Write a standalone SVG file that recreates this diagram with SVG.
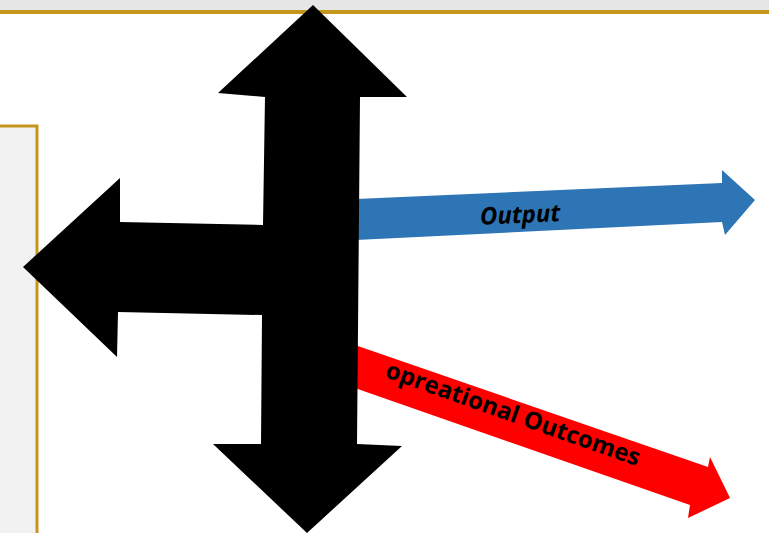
<svg xmlns="http://www.w3.org/2000/svg" width="769" height="533" viewBox="0 0 769 533">
  <style>
    .label { font-family: "Open Sans", "Noto Sans", "Liberation Sans", sans-serif; font-weight: bold; fill: #000; }
    .frame { stroke: #c4961a; stroke-width: 3; }
  </style>
  <rect x="0" y="0" width="769" height="533" fill="#ffffff"/>
  <!-- header band -->
  <rect x="0" y="0" width="769" height="11" fill="#e6e6e6"/>
  <rect x="0" y="10" width="769" height="4" fill="#c4961a"/>
  <!-- left side panel -->
  <g id="side-panel">
    <rect x="0" y="126" width="37" height="407" fill="#f2f2f2"/>
    <polyline points="0,126 37,126 37,533" fill="none" class="frame"/>
  </g>
  <g id="connectors">
    <!-- blue output arrow -->
    <polygon points="356,199 722,183 722,170 755,200 725,235 722,222 356,240" fill="#2e75b6"/>
    <!-- red outcomes arrow -->
    <polygon points="352,344 708,467 710,457 730,498 688,518 690,505 352,387" fill="#ff0000"/>
  </g>
  <!-- central four-way arrow -->
  <g id="hub">
    <polygon fill="#000000" points="313,5 407,97 360,97 357,444 402,446 307,533 213,444 261,444 262,315 118,312 117,357 23,267 120,178 120,222 263,225 265,97 218,93"/>
  </g>
  <g id="output-label">
    <text class="label" x="520" y="223" font-size="24" font-style="italic" text-anchor="middle" transform="rotate(-2.67 520 215)">Output</text>
  </g>
  <g id="outcomes-label">
    <text class="label" x="513" y="422" font-size="24" text-anchor="middle" transform="rotate(19.5 513 414)">opreational Outcomes</text>
  </g>
</svg>
